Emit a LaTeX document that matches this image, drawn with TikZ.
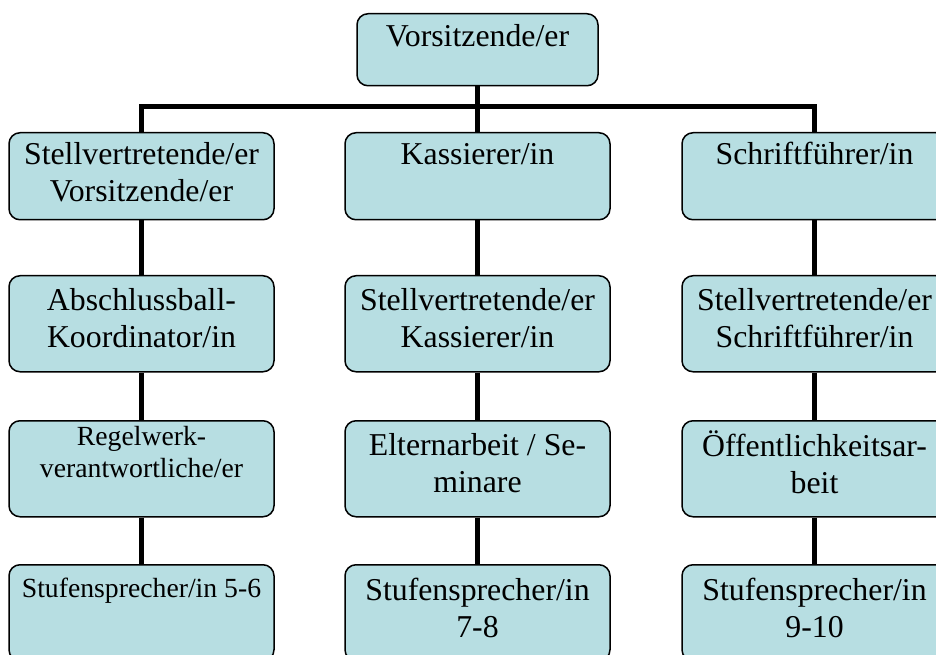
\documentclass[tikz,border=0pt]{standalone}
\usepackage{fontspec}
\setmainfont{Liberation Serif}
\usepackage{tikz}
\definecolor{boxfill}{RGB}{183,222,226}
\tikzset{
  box/.style={draw=black, line width=1.5pt, fill=boxfill, rounded corners=11pt,
    minimum width=265pt, anchor=north, inner sep=0pt},
  lbl/.style={align=center, anchor=base, inner sep=0pt,
    font=\fontsize{31.8}{37}\selectfont},
  small/.style={font=\fontsize{27.7}{32}\selectfont},
  conn/.style={line width=5pt}
}
\begin{document}
\begin{tikzpicture}[x=1pt,y=1pt]
    \clip (0,0) rectangle (936,654);

    %Top
    \node[box, minimum width=241pt, minimum height=72pt] (vors) at (477.5,641) {};

    %First row
    \node[box, minimum height=87pt] (stv) at (141.5,522) {};
    \node[box, minimum height=87pt] (kas) at (477.5,522) {};
    \node[box, minimum height=87pt] (schr) at (814.5,522) {};
    %Second row
    \node[box, minimum height=96pt] (ball) at (141.5,379) {};
    \node[box, minimum height=96pt] (stvkas) at (477.5,379) {};
    \node[box, minimum height=96pt] (stvschr) at (814.5,379) {};
    %Third row
    \node[box, minimum height=96pt] (regel) at (141.5,234) {};
    \node[box, minimum height=96pt] (eltern) at (477.5,234) {};
    \node[box, minimum height=96pt] (oeff) at (814.5,234) {};
    %Fourth row
    \node[box, minimum height=96pt] (stufa) at (141.5,90) {};
    \node[box, minimum height=96pt] (stufb) at (477.5,90) {};
    \node[box, minimum height=96pt] (stufc) at (814.5,90) {};

    %Lines
    \coordinate (bar) at (477.5,547);
    \draw[conn] (vors.south) -- (kas.north);
    \draw[conn] (stv.north) |- (bar) -| (schr.north);
    \draw[conn] (stv.south) -- (ball.north);
    \draw[conn] (ball.south) -- (regel.north);
    \draw[conn] (regel.south) -- (stufa.north);
    \draw[conn] (kas.south) -- (stvkas.north);
    \draw[conn] (stvkas.south) -- (eltern.north);
    \draw[conn] (eltern.south) -- (stufb.north);
    \draw[conn] (schr.south) -- (stvschr.north);
    \draw[conn] (stvschr.south) -- (oeff.north);
    \draw[conn] (oeff.south) -- (stufc.north);

    %Labels (base = last line)
    \node[lbl] (vors-t) at ([yshift=-34pt]vors.north) {Vorsitzende/er};

    \node[lbl] (stv-t) at ([yshift=-70pt]stv.north) {Stellvertretende/er\\Vorsitzende/er};
    \node[lbl] (kas-t) at ([yshift=-33pt]kas.north) {Kassierer/in};
    \node[lbl] (schr-t) at ([yshift=-33pt]schr.north) {Schriftführer/in};

    \node[lbl] (ball-t) at ([yshift=-72pt]ball.north) {Abschlussball-\\Koordinator/in};
    \node[lbl] (stvkas-t) at ([yshift=-72pt]stvkas.north) {Stellvertretende/er\\Kassierer/in};
    \node[lbl] (stvschr-t) at ([yshift=-72pt]stvschr.north) {Stellvertretende/er\\Schriftführer/in};

    \node[lbl, small] (regel-t) at ([yshift=-57pt]regel.north) {Regelwerk-\\verantwortliche/er};
    \node[lbl] (eltern-t) at ([yshift=-72pt]eltern.north) {Elternarbeit / Se-\\minare};
    \node[lbl] (oeff-t) at ([yshift=-73pt]oeff.north) {Öffentlichkeitsar-\\beit};

    \node[lbl, small] (stufa-t) at ([yshift=-33pt]stufa.north) {Stufensprecher/in 5-6};
    \node[lbl] (stufb-t) at ([yshift=-73pt]stufb.north) {Stufensprecher/in\\7-8};
    \node[lbl] (stufc-t) at ([yshift=-73pt]stufc.north) {Stufensprecher/in\\9-10};

\end{tikzpicture}
\end{document}
